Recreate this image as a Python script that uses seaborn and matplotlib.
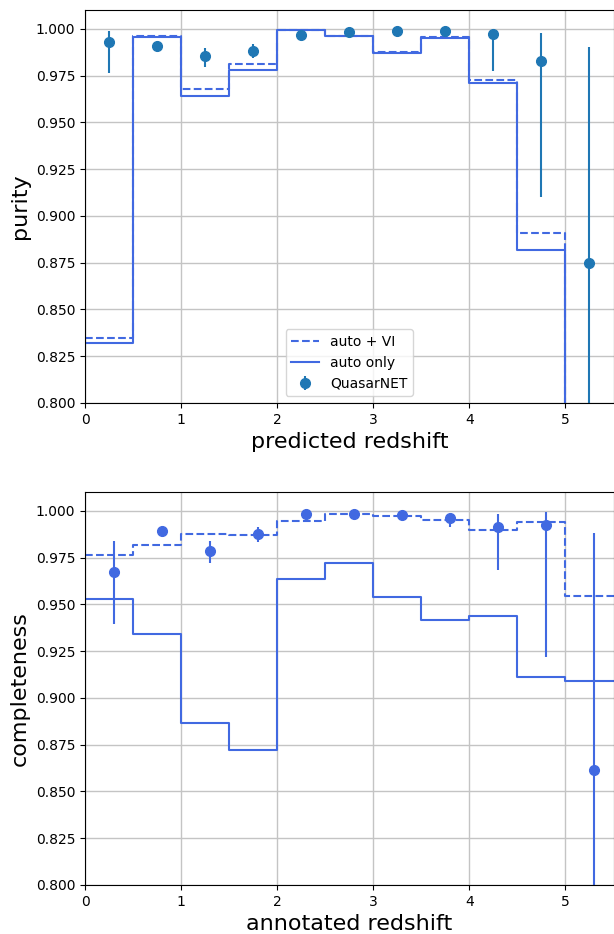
import numpy as np
import pandas as pd
import matplotlib
matplotlib.use("Agg")
import matplotlib.pyplot as plt
import seaborn as sns

# Redshift bin edges shared by both panels
bin_edges = [0.0, 0.5, 1.0, 1.5, 2.0, 2.5, 3.0, 3.5, 4.0, 4.5, 5.0, 5.5]

# Purity per predicted-redshift bin
purity_auto_vi = [0.835, 0.996, 0.9677, 0.981, 0.9995, 0.9962, 0.9878, 0.9955, 0.9725, 0.891, 0.0]
purity_auto_only = [0.832, 0.9957, 0.964, 0.978, 0.9995, 0.996, 0.987, 0.995, 0.9712, 0.882, 0.0]

# QuasarNET purity with asymmetric uncertainties
qn_purity_z = [0.25, 0.75, 1.25, 1.75, 2.25, 2.75, 3.25, 3.75, 4.25, 4.75, 5.25]
qn_purity = [0.9929, 0.9907, 0.9853, 0.988, 0.9968, 0.9982, 0.9989, 0.9988, 0.9971, 0.9827, 0.875]
qn_purity_lo = [0.9762, 0.9893, 0.9795, 0.9843, 0.9958, 0.9975, 0.9983, 0.9982, 0.9776, 0.9103, 0.70]
qn_purity_hi = [0.9988, 0.9921, 0.9896, 0.992, 0.9978, 0.9989, 0.9995, 0.9994, 1.0, 0.9979, 0.990]

# Completeness per annotated-redshift bin
compl_auto_vi = [0.9762, 0.9815, 0.9876, 0.987, 0.9943, 0.998, 0.9972, 0.9948, 0.9899, 0.9938, 0.9543]
compl_auto_only = [0.9529, 0.934, 0.8868, 0.8724, 0.9634, 0.9719, 0.9538, 0.9415, 0.9439, 0.9113, 0.9092]

# QuasarNET completeness with asymmetric uncertainties
qn_compl_z = [0.3, 0.8, 1.3, 1.8, 2.3, 2.8, 3.3, 3.8, 4.3, 4.8, 5.3]
qn_compl = [0.967, 0.9893, 0.9785, 0.9876, 0.9982, 0.9984, 0.9979, 0.9961, 0.9913, 0.9924, 0.8616]
qn_compl_lo = [0.9396, 0.9885, 0.9721, 0.9835, 0.9976, 0.9979, 0.9973, 0.9911, 0.9682, 0.922, 0.70]
qn_compl_hi = [0.984, 0.9901, 0.9838, 0.9911, 0.9988, 0.9989, 0.9985, 0.9984, 0.9984, 0.9995, 0.9879]

y_ticks = [0.800, 0.825, 0.850, 0.875, 0.900, 0.925, 0.950, 0.975, 1.000]
x_ticks = [0, 1, 2, 3, 4, 5]

LINE_COLOR = "royalblue"


def step_frame(values):
    # repeat the last bin value so the final step spans its full width
    return pd.DataFrame({"z": bin_edges, "v": list(values) + [values[-1]]})


def draw_panel(ax, vi_vals, auto_vals, pz, pv, plo, phi, point_color, xlabel, ylabel, legend):
    d_vi = step_frame(vi_vals)
    d_auto = step_frame(auto_vals)
    sns.lineplot(data=d_vi, x="z", y="v", ax=ax, color=LINE_COLOR, linestyle="--",
                 drawstyle="steps-post", estimator=None, sort=False, linewidth=1.5,
                 label="auto + VI" if legend else None, legend=False)
    sns.lineplot(data=d_auto, x="z", y="v", ax=ax, color=LINE_COLOR, linestyle="-",
                 drawstyle="steps-post", estimator=None, sort=False, linewidth=1.5,
                 label="auto only" if legend else None, legend=False)
    pv_a = np.array(pv)
    yerr = np.vstack([pv_a - np.array(plo), np.array(phi) - pv_a])
    ax.errorbar(pz, pv, yerr=yerr, fmt="o", color=point_color, markersize=7,
                elinewidth=1.5, capsize=0, label="QuasarNET" if legend else None)
    ax.set_xlim(0, 5.5)
    ax.set_ylim(0.8, 1.01)
    ax.set_xticks(x_ticks)
    ax.set_yticks(y_ticks)
    ax.set_yticklabels([f"{t:.3f}" for t in y_ticks])
    ax.grid(True, color="#c4c4c4", linewidth=1.0)
    ax.set_axisbelow(True)
    ax.set_xlabel(xlabel, fontsize=16)
    ax.set_ylabel(ylabel, fontsize=16)
    ax.tick_params(labelsize=10)
    for s in ax.spines.values():
        s.set_color("black")
        s.set_linewidth(0.8)
    if legend:
        ax.legend(loc="lower center", fontsize=10)


fig = plt.figure(figsize=(6.14, 9.34), dpi=100)
ax_top = fig.add_axes([85 / 614, 1 - 403 / 934, (613.5 - 85) / 614, (403 - 10) / 934])
ax_bot = fig.add_axes([85 / 614, 1 - 885 / 934, (613.5 - 85) / 614, (885 - 492) / 934])

draw_panel(ax_top, purity_auto_vi, purity_auto_only, qn_purity_z, qn_purity,
           qn_purity_lo, qn_purity_hi, "tab:blue", "predicted redshift", "purity", True)
draw_panel(ax_bot, compl_auto_vi, compl_auto_only, qn_compl_z, qn_compl,
           qn_compl_lo, qn_compl_hi, LINE_COLOR, "annotated redshift", "completeness", False)

fig.savefig("out.png", dpi=100)
